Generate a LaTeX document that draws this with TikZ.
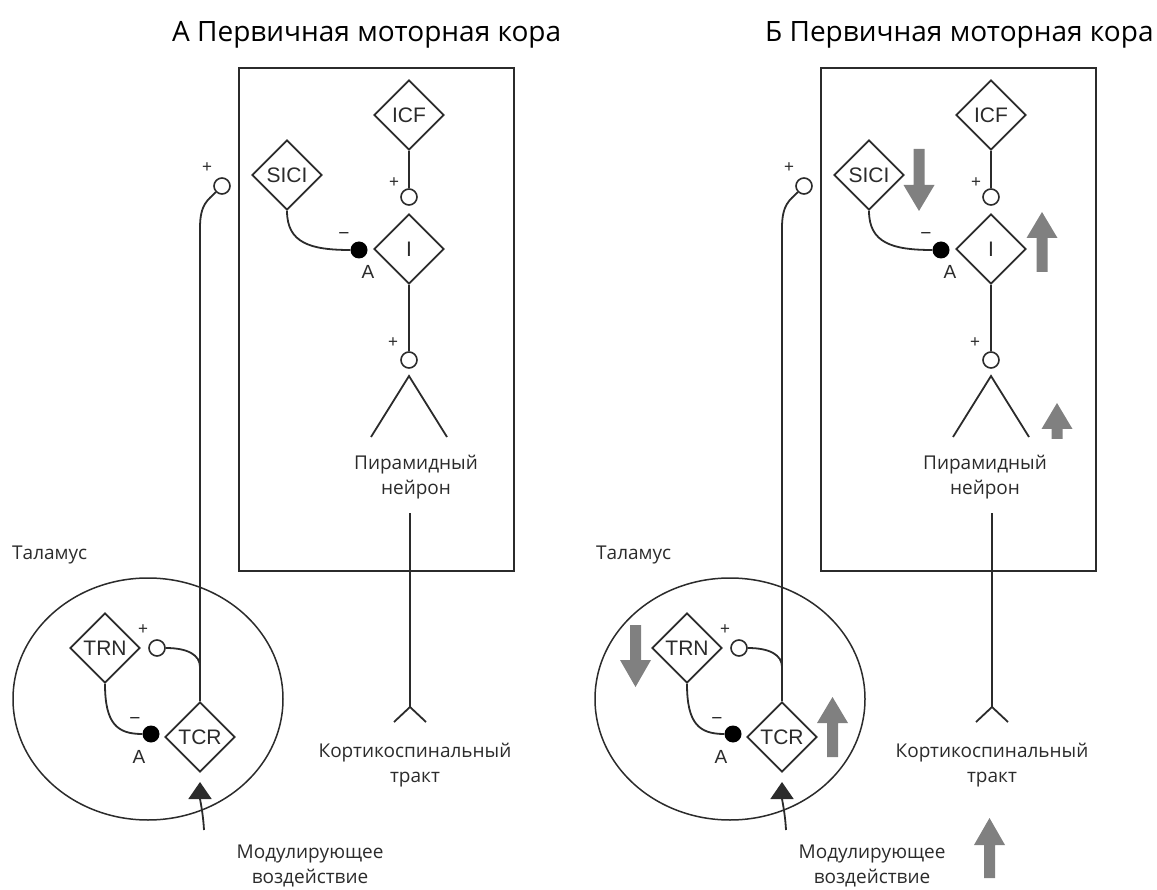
\documentclass[tikz,border=0pt]{standalone}
\usepackage{fontspec}
\setmainfont{Open Sans}
\newfontfamily\arialf{Liberation Sans}
\usetikzlibrary{shapes.geometric,arrows.meta}
\definecolor{ink}{HTML}{2B2B2B}
\definecolor{arrgray}{HTML}{808080}
\tikzset{
 cell/.style={diamond, draw=ink, line width=1.8pt, fill=white, minimum width=70pt, minimum height=70pt, inner sep=0pt, font=\arialf\fontsize{21}{21}\selectfont, text=ink},
 syn/.style={circle, draw=ink, line width=1.6pt, fill=white, minimum size=16pt, inner sep=0pt},
 inh/.style={circle, fill=black, minimum size=17pt, inner sep=0pt},
 conn/.style={draw=ink, line width=1.8pt},
 sign/.style={font=\arialf\fontsize{17}{17}\selectfont, text=ink, inner sep=0pt},
 alab/.style={font=\arialf\fontsize{19}{19}\selectfont, text=ink, inner sep=0pt},
 rus/.style={font=\fontsize{19}{25}\selectfont, text=ink, align=center, inner sep=0pt},
 ttl/.style={font=\fontsize{28}{28}\selectfont, anchor=base west, inner sep=0pt},
 cortex/.style={draw=ink, line width=2.3pt, minimum width=275pt, minimum height=503pt, inner sep=0pt},
 thal/.style={ellipse, draw=ink, line width=1.5pt, minimum width=270pt, minimum height=242pt, inner sep=0pt},
}
\newcommand\garrow[4]{\fill[arrgray] (#1,#2) -- (#1+15.5,#3) -- (#1+5.5,#3) -- (#1+5.5,#4) -- (#1-5.5,#4) -- (#1-5.5,#3) -- (#1-15.5,#3) -- cycle;}
\newcommand\drawpanel[2]{%
\begin{scope}[xshift=#2pt]
 \node[cortex] (#1box) at (376.5,319.5) {};
 \node[thal] (#1thal) at (148,699) {};
 \node[cell] (#1ICF) at (409,115) {ICF};
 \node[syn] (#1sICF) at (409,197) {};
 \node[sign] (#1pICF) at (394,183) {+};
 \node[cell] (#1I) at (409,249) {I};
 \node[cell] (#1SICI) at (287,175) {SICI};
 \node[inh] (#1dSICI) at (359,250) {};
 \node[alab] (#1mSICI) at (344,236) {−};
 \node[alab] (#1aSICI) at (368,272) {A};
 \node[syn] (#1sI) at (409,360) {};
 \node[sign] (#1pI) at (393,343) {+};
 \coordinate (#1apex) at (409,376);
 \coordinate (#1legL) at (371,437);
 \coordinate (#1legR) at (447,437);
 \coordinate (#1tractTop) at (410,513);
 \coordinate (#1tractFork) at (410,707);
 \coordinate (#1forkL) at (394,722);
 \coordinate (#1forkR) at (426,722);
 \node[cell] (#1TRN) at (105,648) {TRN};
 \node[syn] (#1sTRN) at (157,648) {};
 \node[sign] (#1pTRN) at (143,630) {+};
 \node[cell] (#1TCR) at (200,737) {TCR};
 \node[inh] (#1dTRN) at (151,734) {};
 \node[alab] (#1mTRN) at (135,721) {−};
 \node[alab] (#1aTRN) at (139,757) {A};
 \node[syn] (#1sTop) at (222,186) {};
 \node[sign] (#1pTop) at (207,168) {+};
 \coordinate (#1bend) at (200,228);
 \coordinate (#1join) at (200,667);
 \coordinate (#1modStart) at (204,830);
 \coordinate (#1modTip) at (200,782);
 \draw[conn] (#1ICF.south) -- (#1sICF.north);
 \draw[conn] (#1I.south) -- (#1sI.north);
 \draw[conn] (#1legL) -- (#1apex) -- (#1legR);
 \draw[conn] (#1SICI.south) .. controls +(0,32) and +(-40,0) .. (#1dSICI.west);
 \draw[conn] (#1tractTop) -- (#1tractFork);
 \draw[conn] (#1forkL) -- (#1tractFork) -- (#1forkR);
 \draw[conn] (#1TCR.north) -- (#1bend) .. controls +(0,-24) and +(-8,8) .. (#1sTop.south west);
 \draw[conn] (#1sTRN.east) .. controls +(22,0) and +(0,-12) .. (#1join);
 \draw[conn] (#1TRN.south) .. controls +(0,40) and +(-25,0) .. (#1dTRN.west);
 \draw[conn, -{Triangle[width=23pt,length=17pt]}] (#1modStart) .. controls (203,812) and (200,800) .. (#1modTip);
\end{scope}}
\begin{document}
\begin{tikzpicture}[x=1pt,y=-1pt]
\useasboundingbox (0,0) rectangle (1157,890);
\drawpanel{L}{0}
\drawpanel{R}{582}
% titles
\node[ttl] (Ltitle) at (172,42) {А Первичная моторная кора};
\node[ttl] (Rtitle) at (765,42) {Б Первичная моторная кора};
% left texts
\node[rus] (Lpyr) at (416,477) {Пирамидный\\нейрон};
\node[rus] (Ltract) at (415,765) {Кортикоспинальный\\тракт};
\node[rus] (Lmod) at (310,866) {Модулирующее\\воздействие};
\node[rus, anchor=base west] (Lthaltxt) at (12,559) {Таламус};
% right texts
\node[rus] (Rpyr) at (985,477) {Пирамидный\\нейрон};
\node[rus] (Rtract) at (992,765) {Кортикоспинальный\\тракт};
\node[rus] (Rmod) at (872,866) {Модулирующее\\воздействие};
\node[rus, anchor=base west] (Rthaltxt) at (596,559) {Таламус};
% gray change arrows
\garrow{919}{211}{185}{149}
\garrow{1042}{212}{238}{272}
\garrow{1057}{403}{429}{439}
\garrow{635.5}{687}{660}{625}
\garrow{832.5}{697}{723}{757}
\garrow{989.5}{818}{845}{878}
\end{tikzpicture}
\end{document}
